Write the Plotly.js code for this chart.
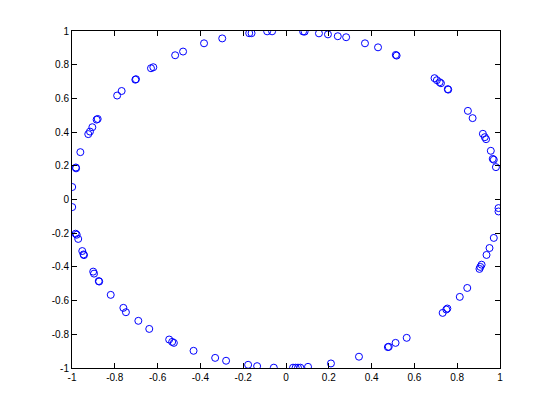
<!DOCTYPE html>
<html>
<head>
<meta charset="utf-8">
<script src="https://cdn.plot.ly/plotly-3.0.1.min.js"></script>
<style>html,body{margin:0;padding:0;background:#fff;}#chart{width:553px;height:414px;}</style>
</head>
<body>
<div id="chart"></div>
<script>
// Point coordinates (unit circle samples)
const xVals = [
  -0.999, -0.982, -0.981, -0.961, -0.924, -0.916, -0.905, -0.885, -0.880,
  -0.789, -0.768, -0.704, -0.701, -0.631, -0.620, -0.518, -0.481, -0.383,
  -0.298, -0.172, -0.161, -0.088, -0.065, 0.080, 0.087, 0.154, 0.196,
  0.242, 0.281, 0.369, 0.430, 0.513, 0.517, 0.694, 0.705, 0.718, 0.724,
  0.756, 0.758, 0.850, 0.872, 0.920, 0.929, 0.935, 0.957, 0.966, 0.971,
  0.981, 0.993, 0.993, 0.971, 0.951, 0.937, 0.914, 0.908, 0.904, 0.847,
  0.812, 0.754, 0.749, 0.732, 0.564, 0.512, 0.476, 0.480, 0.341, 0.210,
  0.103, 0.067, 0.056, 0.045, 0.033, -0.057, -0.135, -0.177, -0.280,
  -0.331, -0.432, -0.524, -0.532, -0.546, -0.639, -0.690, -0.748, -0.760,
  -0.819, -0.873, -0.875, -0.897, -0.901, -0.944, -0.946, -0.952, -0.971,
  -0.978, -0.983, -0.999
];
const yVals = [
  0.074, 0.190, 0.185, 0.281, 0.388, 0.403, 0.429, 0.474, 0.478,
  0.617, 0.644, 0.711, 0.714, 0.779, 0.785, 0.856, 0.878, 0.927,
  0.956, 0.987, 0.987, 0.998, 0.998, 0.997, 0.996, 0.986, 0.980,
  0.969, 0.963, 0.927, 0.903, 0.858, 0.854, 0.720, 0.708, 0.696, 0.690,
  0.655, 0.652, 0.526, 0.483, 0.390, 0.370, 0.358, 0.289, 0.241, 0.236,
  0.192, -0.051, -0.071, -0.228, -0.288, -0.329, -0.387, -0.400, -0.412, -0.525,
  -0.578, -0.647, -0.653, -0.673, -0.821, -0.851, -0.876, -0.874, -0.933, -0.973,
  -0.993, -0.998, -0.998, -0.998, -0.998, -0.998, -0.989, -0.981, -0.957,
  -0.940, -0.898, -0.851, -0.845, -0.831, -0.768, -0.720, -0.669, -0.643,
  -0.566, -0.487, -0.484, -0.440, -0.428, -0.330, -0.326, -0.306, -0.234,
  -0.209, -0.203, -0.045
];
const tickValues = [-1, -0.8, -0.6, -0.4, -0.2, 0, 0.2, 0.4, 0.6, 0.8, 1];
const tickLabels = ["-1", "-0.8", "-0.6", "-0.4", "-0.2", "0", "0.2", "0.4", "0.6", "0.8", "1"];

const axisCommon = {
  range: [-1, 1],
  tickmode: 'array',
  tickvals: tickValues,
  ticktext: tickLabels,
  ticks: 'inside',
  ticklen: 5,
  tickwidth: 1,
  tickcolor: '#000',
  showline: true,
  linecolor: '#000',
  linewidth: 1,
  mirror: 'ticks',
  showgrid: false,
  zeroline: false,
  tickfont: {family: 'Liberation Sans, Arial, sans-serif', size: 10, color: '#000'},
  fixedrange: true
};

const trace = {
  x: xVals,
  y: yVals,
  type: 'scatter',
  mode: 'markers',
  marker: {symbol: 'circle-open', size: 7, color: '#0000ff', line: {width: 1, color: '#0000ff'}},
  hoverinfo: 'none'
};

const layout = {
  width: 553,
  height: 414,
  margin: {l: 72, r: 52.5, t: 31, b: 45.5, pad: 0},
  paper_bgcolor: '#fff',
  plot_bgcolor: '#fff',
  showlegend: false,
  xaxis: Object.assign({}, axisCommon),
  yaxis: Object.assign({}, axisCommon)
};

Plotly.newPlot('chart', [trace], layout, {staticPlot: true, displayModeBar: false});
</script>
</body>
</html>
